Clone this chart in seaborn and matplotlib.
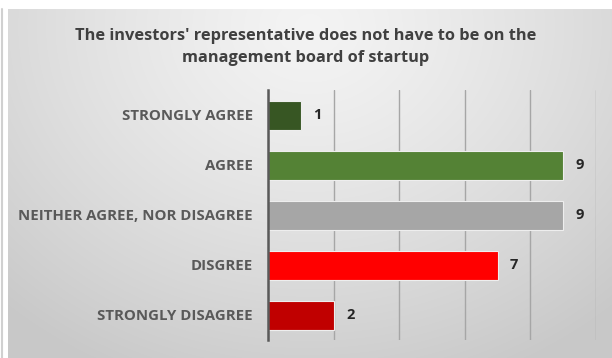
import numpy as np
import pandas as pd
import matplotlib
matplotlib.use("Agg")
import matplotlib.pyplot as plt
import seaborn as sns

title = "The investors' representative does not have to be on the\nmanagement board of startup"
categories = ["STRONGLY AGREE", "AGREE", "NEITHER AGREE, NOR DISAGREE", "DISGREE", "STRONGLY DISAGREE"]
counts = [1, 9, 9, 7, 2]
bar_colors = ["#375623", "#548235", "#a6a6a6", "#ff0000", "#c00000"]
x_ticks = [0, 2, 4, 6, 8, 10]

sns.set_theme(style="white")
plt.rcParams["font.family"] = ["Open Sans", "DejaVu Sans"]

W, H = 612, 358
fig = plt.figure(figsize=(W / 100, H / 100), dpi=100, facecolor="white")

# soft radial gradient panel behind the chart
bg = fig.add_axes([8 / W, 0, (W - 8) / W, (H - 9) / H])
gy, gx = np.mgrid[0:1:300j, 0:1:500j]
r = np.sqrt(((gx - 0.5) / 0.75) ** 2 + ((gy - 0.05) / 1.1) ** 2)
r = np.clip(r, 0, 1)
shade = 0.955 - 0.17 * r ** 1.3
bg.imshow(np.dstack([shade, shade, shade]), aspect="auto", extent=[0, 1, 0, 1],
          origin="upper", interpolation="bilinear")
bg.set_axis_off()
fig.add_artist(plt.Line2D([1.5 / W, 1.5 / W], [0, (H - 9) / H], color="#d0d0d0", lw=1.5))

ax = fig.add_axes([268 / W, (H - 340) / H, (596 - 268) / W, 250 / H])
ax.patch.set_alpha(0)

df = pd.DataFrame({"category": categories, "count": counts})
sns.barplot(data=df, x="count", y="category", hue="category", palette=bar_colors,
            saturation=1, orient="h", width=0.58, legend=False, ax=ax,
            edgecolor="#eeeeee", linewidth=0.8, zorder=3)

for cont in ax.containers:
    ax.bar_label(cont, padding=9, fontsize=10.5, fontweight="bold", color="#262626")

ax.set_xlim(x_ticks[0], x_ticks[-1])
ax.set_xticks(x_ticks)
ax.set_xticklabels([])
ax.tick_params(axis="x", length=0)
ax.tick_params(axis="y", length=0, pad=11)
ax.grid(axis="x", color="#a6a6a6", lw=1, zorder=0)
ax.grid(axis="y", visible=False)
for lbl in ax.get_yticklabels():
    lbl.set_fontweight("bold")
    lbl.set_color("#595959")
    lbl.set_fontsize(10.8)
ax.set_xlabel("")
ax.set_ylabel("")
for s in ["top", "right", "bottom"]:
    ax.spines[s].set_visible(False)
ax.spines["left"].set_color("#595959")
ax.spines["left"].set_linewidth(1.8)
ax.spines["left"].set_zorder(4)

fig.text(306 / W, 1 - 47 / H, title, ha="center", va="center", fontsize=11.8,
         fontweight="bold", color="#404040", linespacing=1.5)

fig.savefig("out.png", dpi=100, facecolor="white")
